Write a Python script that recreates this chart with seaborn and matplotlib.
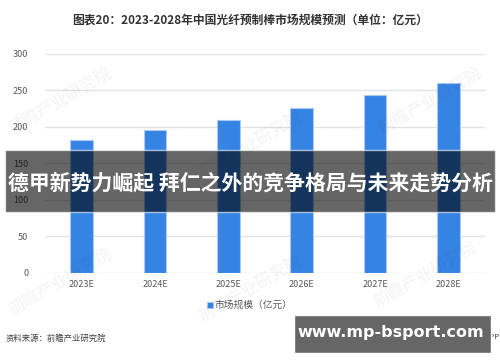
import matplotlib
matplotlib.use("Agg")
import matplotlib.pyplot as plt
from matplotlib.patches import Rectangle
import seaborn as sb
import pandas as pd

years = ["2023E", "2024E", "2025E", "2026E", "2027E", "2028E"]
market = [182, 196, 210, 226, 243, 260]
yticks = [0, 50, 100, 150, 200, 250, 300]

title = "图表20：2023-2028年中国光纤预制棒市场规模预测（单位：亿元）"
series_name = "市场规模（亿元）"
source = "资料来源：前瞻产业研究院"
banner = "德甲新势力崛起 拜仁之外的竞争格局与未来走势分析"
site = "www.mp-bsport.com"

sb.set_style("white")
plt.rcParams['font.family'] = ['Noto Sans CJK SC', 'DejaVu Sans']

df = pd.DataFrame({"year": years, "value": market})

fig = plt.figure(figsize = (5, 3.62), dpi = 100)
ax = fig.add_axes([0.09, 0.247, 0.88, 0.604])

sb.barplot(data = df, x = "year", y = "value", color = "#3584e4", saturation = 1,
           width = 0.31, edgecolor = "#a9c9f2", linewidth = 0.8,
           label = series_name, ax = ax, zorder = 3)

ax.set_ylim(0, 300)
ax.set_yticks(yticks)
ax.set_xlim(-0.5, len(years) - 0.5)
ax.grid(axis = "y", color = "#e3e3e3", linewidth = 1, zorder = 0)
ax.set_axisbelow(True)
for s in ax.spines.values():
    s.set_visible(False)
ax.tick_params(axis = "both", length = 0, labelsize = 6.5, colors = "#595959")
ax.tick_params(axis = "y", pad = 12)
ax.tick_params(axis = "x", pad = 5)
ax.set_xlabel("")
ax.set_ylabel("")

leg = ax.legend(loc = "center", bbox_to_anchor = (0.5, 0.157), bbox_transform = fig.transFigure,
                frameon = False, fontsize = 7, handlelength = 0.6, handleheight = 0.6,
                handletextpad = 0.2)
for t in leg.get_texts():
    t.set_color("#595959")

fig.text(0.5, 0.945, title, ha = "center", va = "center", fontsize = 8.5,
         fontweight = "bold", color = "#333333")
fig.text(0.012, 0.064, source, ha = "left", va = "center", fontsize = 6, color = "#404040")
fig.text(0.999, 0.069, "前瞻经济学人APP", ha = "right", va = "center", fontsize = 5.5, color = "#404040")

# faint watermarks
for wx, wy in [(0.12, 0.72), (0.12, 0.22), (0.5, 0.6), (0.5, 0.2), (0.86, 0.72), (0.85, 0.24)]:
    fig.text(wx, wy, "前瞻产业研究院", ha = "center", va = "center", fontsize = 12,
             fontweight = "bold", rotation = 30, color = "#000000", alpha = 0.04, zorder = 5)

# overlay banner
fig.patches.append(Rectangle((0.01, 1 - 212 / 362), 0.98, 62 / 362, transform = fig.transFigure,
                             facecolor = "black", alpha = 0.6, zorder = 10))
fig.text(0.5, 1 - 183 / 362, banner, ha = "center", va = "center", fontsize = 15,
         fontweight = "bold", color = "white", zorder = 11)

fig.patches.append(Rectangle((294 / 500, 1 - 353 / 362), 197 / 500, 38 / 362,
                             transform = fig.transFigure, facecolor = "#666666", zorder = 10))
fig.text(391 / 500, 1 - 333 / 362, site, ha = "center", va = "center", fontsize = 11.5,
         fontweight = "bold", color = "white", family = "DejaVu Sans", zorder = 11)

fig.savefig("out.png", dpi = 100)
